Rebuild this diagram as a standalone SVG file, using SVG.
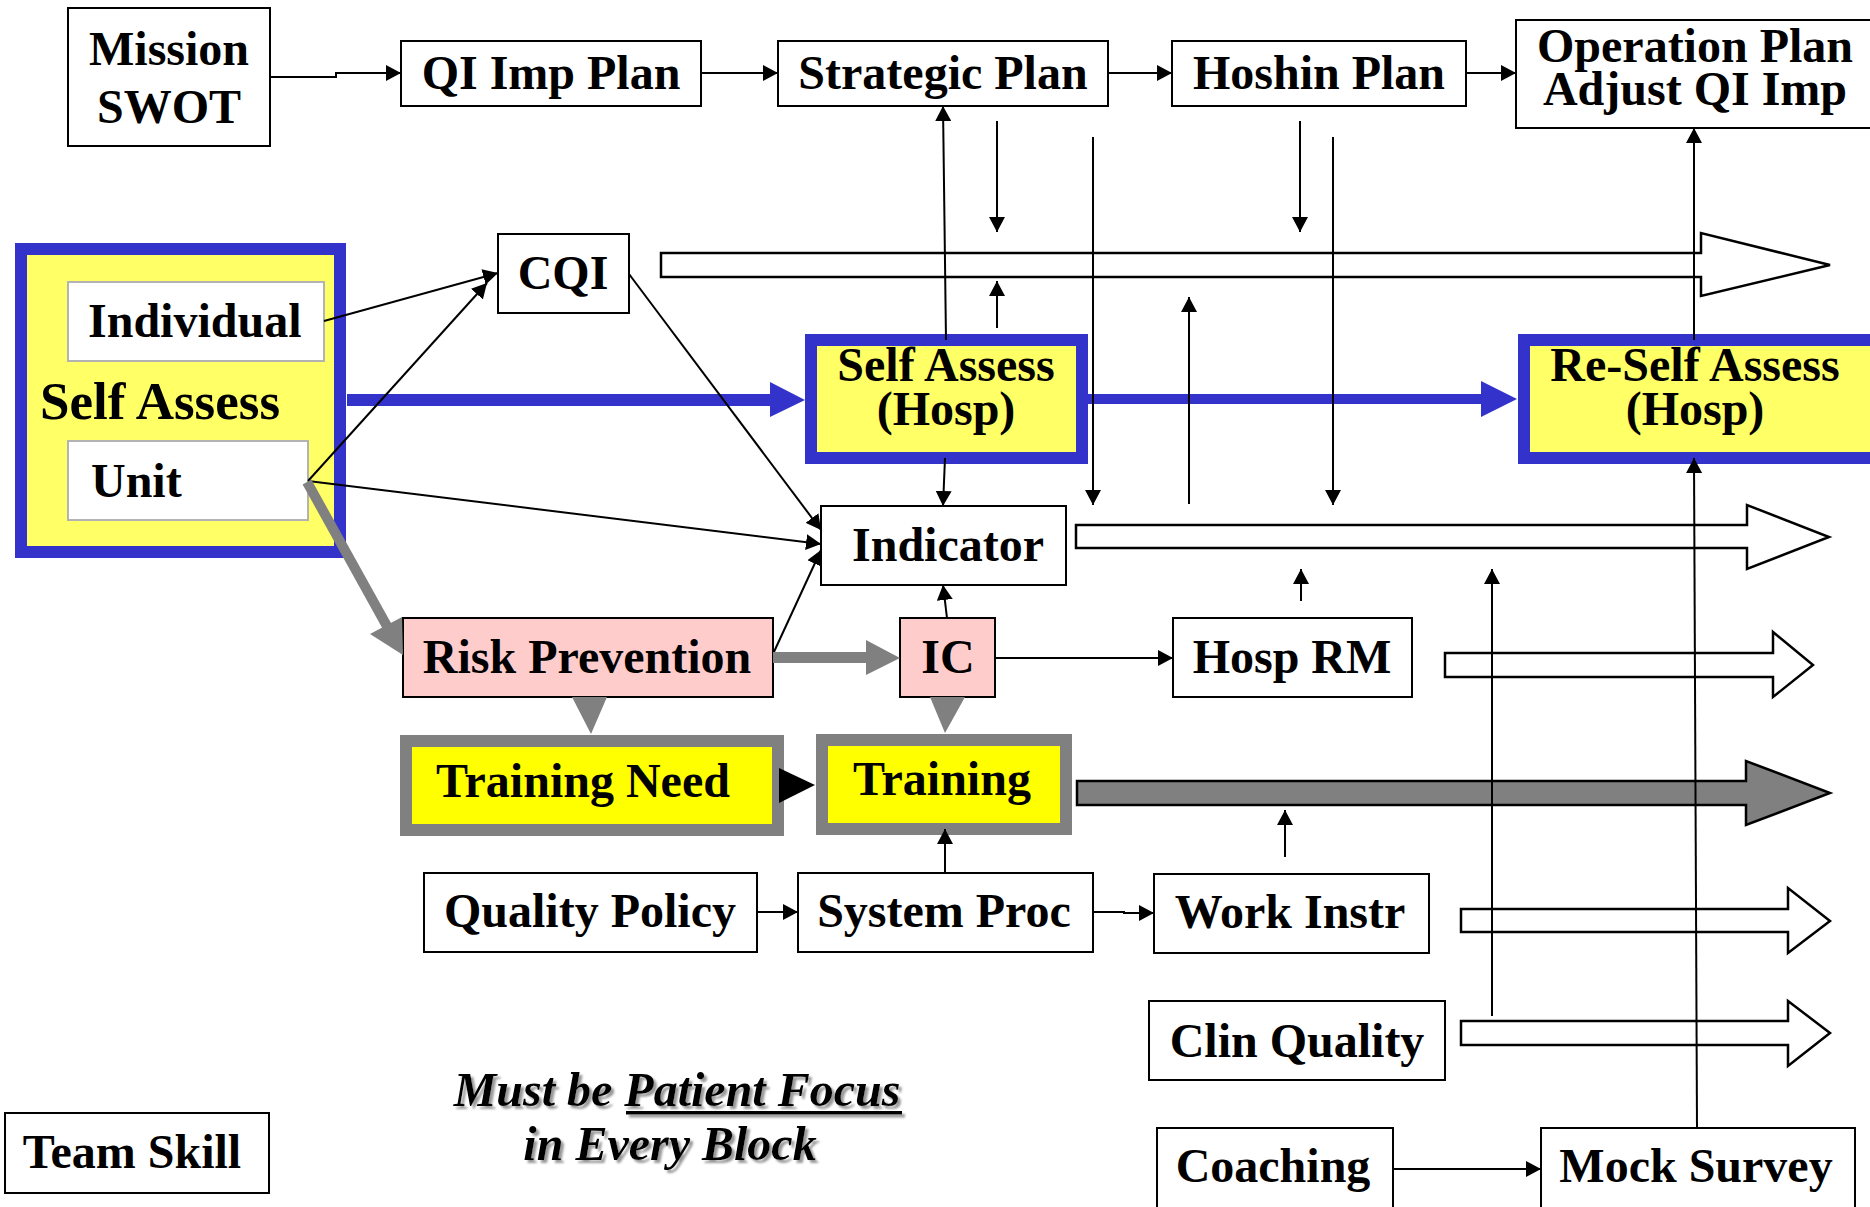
<svg xmlns="http://www.w3.org/2000/svg" width="1870" height="1207" viewBox="0 0 1870 1207">
<style>
text{font-family:'Liberation Serif','Times New Roman',serif;font-weight:bold;font-size:48px;fill:#000}
.c{text-anchor:middle}
.box{fill:#fff;stroke:#000;stroke-width:2}
.sub{fill:#fff;stroke:#b3b3b3;stroke-width:2}
.pink{fill:#ffcccc;stroke:#000;stroke-width:2}
.blue{fill:#ffff66;stroke:#3333cc;stroke-width:12}
.tr{fill:#ffff00;stroke:#808080;stroke-width:12}
.ln{fill:none;stroke:#000;stroke-width:2}
.arr{marker-end:url(#ah)}
.hollow{fill:#fff;stroke:#000;stroke-width:2.5}
.ital{font-style:italic;filter:url(#sh)}
</style>
<defs>
<marker id="ah" markerUnits="userSpaceOnUse" markerWidth="16" markerHeight="16" refX="15" refY="8" orient="auto">
<path d="M0,0 L15,8 L0,16 z" fill="#000"/>
</marker>
<filter id="sh" x="-5%" y="-20%" width="110%" height="140%">
<feDropShadow dx="3" dy="3" stdDeviation="1.2" flood-color="#808080" flood-opacity="0.8"/>
</filter>
<filter id="shu" filterUnits="userSpaceOnUse" x="600" y="1100" width="320" height="30">
<feDropShadow dx="3" dy="3" stdDeviation="1.2" flood-color="#808080" flood-opacity="0.8"/>
</filter>
</defs>
<rect width="1870" height="1207" fill="#fff"/>

<g id="block-arrows">
<polygon class="hollow" points="661,253 1701,253 1701,233 1830,265 1701,296 1701,277 661,277"/>
<polygon class="hollow" points="1076,525 1747,525 1747,505 1829,537 1747,569 1747,548 1076,548"/>
<polygon class="hollow" points="1445,653 1773,653 1773,632 1813,665 1773,697 1773,677 1445,677"/>
<polygon fill="#808080" stroke="#000" stroke-width="2.5" points="1077,781 1746,781 1746,761 1830,793 1746,825 1746,805 1077,805"/>
<polygon class="hollow" points="1461,909 1788,909 1788,888 1830,921 1788,953 1788,932 1461,932"/>
<polygon class="hollow" points="1461,1021 1788,1021 1788,1001 1830,1033 1788,1066 1788,1045 1461,1045"/>
</g>

<g id="nodes">
<g id="mission"><rect class="box" x="68" y="8" width="202" height="138"/><text class="c" x="169" y="65">Mission</text><text class="c" x="169" y="123">SWOT</text></g>
<g id="qi-imp-plan"><rect class="box" x="401" y="41" width="300" height="65"/><text class="c" x="551" y="89">QI Imp Plan</text></g>
<g id="strategic-plan"><rect class="box" x="778" y="41" width="330" height="65"/><text class="c" x="943" y="89">Strategic Plan</text></g>
<g id="hoshin-plan"><rect class="box" x="1172" y="41" width="294" height="65"/><text class="c" x="1319" y="89">Hoshin Plan</text></g>
<g id="operation-plan"><rect class="box" x="1516" y="20" width="360" height="108"/><text class="c" x="1695" y="62">Operation Plan</text><text class="c" x="1695" y="105">Adjust QI Imp</text></g>

<g id="self-assess"><rect class="blue" x="21" y="249" width="319" height="303"/><text x="40" y="419" style="font-size:53px">Self Assess</text></g>
<g id="individual"><rect class="sub" x="68" y="282" width="256" height="79"/><text x="88" y="337">Individual</text></g>
<g id="unit"><rect class="sub" x="68" y="441" width="240" height="79"/><text x="91" y="497">Unit</text></g>
<g id="cqi"><rect class="box" x="498" y="234" width="131" height="79"/><text class="c" x="563" y="289">CQI</text></g>

<g id="self-assess-hosp"><rect class="blue" x="811" y="340" width="271" height="118"/><text class="c" x="946" y="381">Self Assess</text><text class="c" x="946" y="425">(Hosp)</text></g>
<g id="re-self-assess-hosp"><rect class="blue" x="1524" y="340" width="352" height="118"/><text class="c" x="1695" y="381">Re-Self Assess</text><text class="c" x="1695" y="425">(Hosp)</text></g>

<g id="indicator"><rect class="box" x="821" y="506" width="245" height="79"/><text class="c" x="948" y="561">Indicator</text></g>
<g id="risk-prevention"><rect class="pink" x="403" y="618" width="370" height="79"/><text class="c" x="587" y="673">Risk Prevention</text></g>
<g id="ic"><rect class="pink" x="900" y="618" width="95" height="79"/><text class="c" x="948" y="673">IC</text></g>
<g id="hosp-rm"><rect class="box" x="1173" y="618" width="239" height="79"/><text class="c" x="1292" y="673">Hosp RM</text></g>

<g id="training-need"><rect class="tr" x="406" y="741" width="372" height="89"/><text class="c" x="583" y="797">Training Need</text></g>
<g id="training"><rect class="tr" x="822" y="740" width="244" height="89"/><text class="c" x="942" y="795">Training</text></g>

<g id="quality-policy"><rect class="box" x="424" y="873" width="333" height="79"/><text class="c" x="590" y="927">Quality Policy</text></g>
<g id="system-proc"><rect class="box" x="798" y="873" width="295" height="79"/><text class="c" x="944" y="927">System Proc</text></g>
<g id="work-instr"><rect class="box" x="1154" y="874" width="275" height="79"/><text class="c" x="1290" y="928">Work Instr</text></g>
<g id="clin-quality"><rect class="box" x="1149" y="1001" width="296" height="79"/><text class="c" x="1297" y="1057">Clin Quality</text></g>
<g id="coaching"><rect class="box" x="1157" y="1128" width="236" height="100"/><text class="c" x="1273" y="1182">Coaching</text></g>
<g id="mock-survey"><rect class="box" x="1541" y="1128" width="314" height="100"/><text class="c" x="1696" y="1182">Mock Survey</text></g>
<g id="team-skill"><rect class="box" x="5" y="1113" width="264" height="80"/><text class="c" x="132" y="1168">Team Skill</text></g>

<g id="note">
<text class="c ital" x="677" y="1106">Must be Patient Focus</text>
<rect x="626" y="1111" width="276" height="3.5" fill="#000" filter="url(#shu)"/>
<text class="c ital" x="670" y="1160">in Every Block</text>
</g>
</g>

<g id="connectors">
<path class="ln arr" d="M270,77 H336 V73 H401"/>
<path class="ln arr" d="M701,73 H778"/>
<path class="ln arr" d="M1108,73 H1172"/>
<path class="ln arr" d="M1466,73 H1516"/>

<polygon fill="#3333cc" points="347,394 770,394 770,382 805,400 770,417 770,406 347,406"/>
<polygon fill="#3333cc" points="1088,394 1481,394 1481,381 1517,399 1481,417 1481,404 1088,404"/>

<path class="ln arr" d="M324,321 L498,273"/>
<path class="ln arr" d="M308,481 L487,283"/>
<path class="ln arr" d="M308,481 L821,544"/>
<path class="ln arr" d="M629,274 L821,530"/>
<path class="ln arr" d="M773,654 L821,550"/>

<line x1="307" y1="482" x2="388" y2="628" stroke="#808080" stroke-width="10"/>
<polygon fill="#808080" points="403,655 370,634 402,617"/>
<polygon fill="#808080" points="773,652 866,652 866,640 900,658 866,675 866,663 773,663"/>
<polygon fill="#808080" points="572,697 607,697 591,734"/>
<polygon fill="#808080" points="930,697 965,697 945,733"/>
<polygon fill="#000" points="779,768 815,785 779,803"/>

<path class="ln arr" d="M946,340 L943,106"/>
<path class="ln arr" d="M997,121 V232"/>
<path class="ln arr" d="M997,328 V281"/>
<path class="ln arr" d="M1093,137 V505"/>
<path class="ln arr" d="M1189,504 V297"/>
<path class="ln arr" d="M1300,121 V232"/>
<path class="ln arr" d="M1333,137 V505"/>
<path class="ln arr" d="M1694,340 V128"/>
<path class="ln arr" d="M945,458 L943,506"/>
<path class="ln arr" d="M947,618 L943,585"/>
<path class="ln arr" d="M1301,601 V569"/>
<path class="ln arr" d="M1492,1016 V569"/>
<path class="ln arr" d="M1697,1128 L1694,458"/>
<path class="ln arr" d="M995,658 H1173"/>
<path class="ln arr" d="M757,912 H798"/>
<path class="ln arr" d="M945,873 V829"/>
<path class="ln arr" d="M1093,912 H1124 V913 H1154"/>
<path class="ln arr" d="M1285,857 V810"/>
<path class="ln arr" d="M1393,1169 H1541"/>
</g>
</svg>
